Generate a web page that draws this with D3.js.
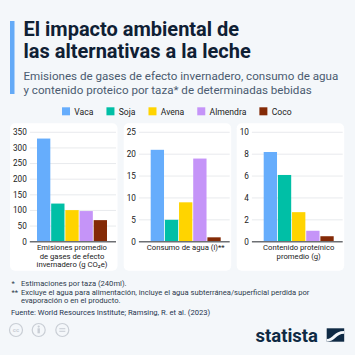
<!DOCTYPE html>
<html><head><meta charset="utf-8">
<script src="https://cdn.jsdelivr.net/npm/d3@7"></script>
<style>
html,body{margin:0;padding:0;background:#f4f7fa;}
svg{display:block;font-family:Roboto,"Open Sans",sans-serif;}
</style></head>
<body><svg id="c" width="355" height="355"></svg>
<script>
const series = ["Vaca","Soja","Avena","Almendra","Coco"];
const colors = ["#66adfc","#00bfa6","#ffd400","#c594f8","#842a06"];
const emisiones = [330,122,101,98,69];
const agua = [21,5,9,19,1];
const proteina = [8.2,6.1,2.7,1.0,0.5];
const ticksEmisiones = [0,50,100,150,200,250,300,350];
const ticksAgua = [0,5,10,15,20,25];
const ticksProteina = [0,2,4,6,8,10];
const labelsEmisiones = ["Emisiones promedio","de gases de efecto","invernadero (g CO₂e)"];
const labelsAgua = ["Consumo de agua (l)**"];
const labelsProteina = ["Contenido proteínico","promedio (g)"];
const titleLines = ["El impacto ambiental de","las alternativas a la leche"];
const subtitleLines = ["Emisiones de gases de efecto invernadero, consumo de agua","y contenido proteico por taza* de determinadas bebidas"];
const footnotes = [["*","Estimaciones por taza (240ml)."],["**","Excluye el agua para alimentación, incluye el agua subterránea/superficial perdida por"],["","evaporación o en el producto."]];
const source = "Fuente: World Resources Institute; Ramsing, R. et al. (2023)";

const svg = d3.select("#c");
svg.append("rect").attr("width",355).attr("height",355).attr("fill","#f4f7fa");

// title
svg.append("rect").attr("x",10).attr("y",21).attr("width",4.5).attr("height",73).attr("fill","#64aaf7");
const tt = svg.append("text").attr("fill","#0f2034").attr("font-weight",700).attr("font-size",20);
titleLines.forEach((l,i)=>tt.append("tspan").attr("x",23.5).attr("y",36+i*22).text(l));
const st = svg.append("text").attr("fill","#4a5b70").attr("font-size",11.6);
subtitleLines.forEach((l,i)=>st.append("tspan").attr("x",23.5).attr("y",80+i*13.5).text(l));

// legend
const lg = svg.append("g");
let lx = 0;
series.forEach((s,i)=>{
  const g = lg.append("g").attr("transform",`translate(${lx},0)`);
  g.append("rect").attr("x",0).attr("y",107.3).attr("width",8).attr("height",8).attr("fill",colors[i]);
  const t = g.append("text").attr("x",12.3).attr("y",114.5).attr("font-size",8.6).attr("fill","#222").text(s);
  lx += 12.3 + t.node().getComputedTextLength() + 13;
});
lx -= 13;
lg.attr("transform",`translate(${176.8 - lx/2},0)`);

// panels
const y = d3.scaleLinear().range([241.7,132.3]);
const panels = [
  {x:10, data:emisiones, ticks:ticksEmisiones, labels:labelsEmisiones},
  {x:123.7, data:agua, ticks:ticksAgua, labels:labelsAgua},
  {x:236.7, data:proteina, ticks:ticksProteina, labels:labelsProteina}
];
panels.forEach(p=>{
  const g = svg.append("g");
  g.append("rect").attr("x",p.x).attr("y",123.3).attr("width",107.5).attr("height",147.5).attr("rx",5).attr("fill","#ffffff");
  const ys = y.copy().domain([0,d3.max(p.ticks)]);
  const tl = g.append("g");
  let maxW = 0;
  p.ticks.forEach(t=>{
    const e = tl.append("text").attr("x",p.x+13).attr("y",ys(t)+2.9).attr("text-anchor","end")
      .attr("font-size",8.2).attr("fill","#222").text(t);
    maxW = Math.max(maxW, e.node().getComputedTextLength());
  });
  const labRight = p.x + 3 + maxW;
  tl.selectAll("text").attr("x",labRight);
  const gx0 = labRight + 3, gx1 = p.x + 106;
  g.selectAll("line.grid").data(p.ticks.filter(t=>t>0)).join("line")
    .attr("x1",gx0).attr("x2",gx1).attr("y1",d=>ys(d)).attr("y2",d=>ys(d))
    .attr("stroke","#e2e5e9").attr("stroke-width",0.8);
  const x = d3.scaleBand().domain(series).range([p.x+27,p.x+97]).paddingInner(0.06);
  g.selectAll("rect.bar").data(p.data).join("rect")
    .attr("x",(d,i)=>x(series[i])).attr("width",x.bandwidth())
    .attr("y",d=>ys(d)).attr("height",d=>ys(0)-ys(d))
    .attr("fill",(d,i)=>colors[i]);
  g.append("line").attr("x1",gx0).attr("x2",gx1).attr("y1",ys(0)).attr("y2",ys(0))
    .attr("stroke","#6d6f73").attr("stroke-width",1.4);
  const cl = g.append("text").attr("text-anchor","middle").attr("font-size",7.7).attr("fill","#1a1a1a");
  p.labels.forEach((l,i)=>cl.append("tspan").attr("x",p.x+62).attr("y",250.3+i*8.3).text(l));
});

// footnotes
const fy = [285.5,294.5,303.3];
footnotes.forEach((f,i)=>{
  svg.append("text").attr("x",11.5).attr("y",fy[i]).attr("font-size",7.6).attr("fill","#2c3a4c").text(f[0]);
  svg.append("text").attr("x",21).attr("y",fy[i]).attr("font-size",7.6).attr("fill","#2c3a4c").text(f[1]);
});
svg.append("text").attr("x",11).attr("y",315).attr("font-size",7.6).attr("fill","#1e3450").text(source);

// cc icons
const ic = svg.append("g").attr("stroke","#c9ced5").attr("fill","none").attr("stroke-width",1.2);
[16,38.7,62.3].forEach(cx=>ic.append("circle").attr("cx",cx).attr("cy",330).attr("r",6.5));
svg.append("text").attr("x",16).attr("y",332.3).attr("text-anchor","middle").attr("font-size",6).attr("font-weight",700).attr("fill","#c9ced5").text("cc");
svg.append("circle").attr("cx",38.7).attr("cy",326.6).attr("r",1.1).attr("fill","#c9ced5");
svg.append("rect").attr("x",37.5).attr("y",328.3).attr("width",2.4).attr("height",5).attr("fill","#c9ced5");
[328.7,331.3].forEach(yy=>svg.append("line").attr("x1",59.3).attr("x2",65.3).attr("y1",yy).attr("y2",yy).attr("stroke","#c9ced5").attr("stroke-width",1.1));

// statista logo
svg.append("text").attr("x",255.5).attr("y",341.5).attr("font-size",18.5).attr("font-weight",700).attr("fill","#0f2a44").text("statista");
svg.append("rect").attr("x",326.7).attr("y",328.3).attr("width",17.5).attr("height",13.4).attr("fill","#0f2a44");
svg.append("path").attr("d","M326.7,339 C333,339 334,331 344.2,331 L344.2,333.8 C336,333.8 335,341.7 326.7,341.7 Z").attr("fill","#f4f7fa");
</script></body></html>
